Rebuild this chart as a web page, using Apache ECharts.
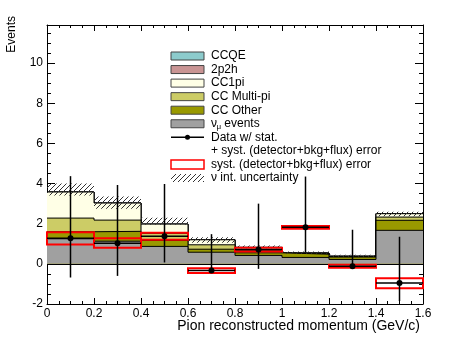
<!DOCTYPE html>
<html>
<head>
<meta charset="utf-8">
<script src="https://cdn.jsdelivr.net/npm/echarts@6/dist/echarts.min.js"></script>
<style>
  html, body { margin: 0; padding: 0; background: #fff; }
  #chart { width: 469px; height: 338px; }
</style>
</head>
<body>
<div id="chart"></div>
<script>
// bin edges, pion momentum (GeV/c)
var binEdges = [0, 0.2, 0.4, 0.6, 0.8, 1.0, 1.2, 1.4, 1.6];

// MC contributions per bin (stacked bottom -> top)
var numuEvents = [1.25, 1.13, 0.87, 0.58, 0.42, 0.32, 0.22, 1.67];
var ccOther    = [0.35, 0.49, 0.30, 0.15, 0.13, 0.16, 0.12, 0.50];
var ccMultiPi  = [0.68, 0.56, 0.35, 0.22, 0.13, 0.03, 0.02, 0.16];
var cc1pi      = [1.30, 0.85, 0.46, 0.25, 0.14, 0.03, 0.02, 0.17];
var twoP2h     = [0, 0, 0, 0, 0, 0, 0, 0];
var ccqe       = [0, 0, 0, 0, 0, 0, 0, 0];

// nu interaction uncertainty band
var hatchLow  = [3.40, 2.75, 1.95, 1.05, 0.78, 0.50, 0.36, 2.37];
var hatchHigh = [4.00, 3.35, 2.30, 1.33, 0.92, 0.62, 0.45, 2.60];

// data points
var dataVal  = [1.27, 1.03, 1.37, -0.33, 0.72, 1.82, -0.12, -0.95];
var errLow   = [-0.68, -0.60, 0.07, -0.33, -0.25, 0.57, -0.25, -1.85];
var errHigh  = [4.37, 3.93, 3.98, 1.48, 3.00, 4.35, 1.70, 1.35];
var systLow  = [0.97, 0.80, 1.20, -0.45, 0.62, 1.75, -0.20, -1.22];
var systHigh = [1.57, 1.28, 1.55, -0.22, 0.80, 1.88, -0.05, -0.72];

var yTicks = [-2, 0, 2, 4, 6, 8, 10];

var FONT = '"Liberation Sans", Arial, Helvetica, sans-serif';

// hatch pattern "////"
function makeHatch() {
  var c = document.createElement('canvas');
  c.width = 5; c.height = 5;
  var g = c.getContext('2d');
  g.strokeStyle = '#333';
  g.lineWidth = 1;
  g.beginPath();
  g.moveTo(-1, 6); g.lineTo(6, -1);
  g.stroke();
  return c;
}
var hatch = makeHatch();

// cumulative stack, each layer drawn from 0 like THStack
var layers = [
  { name: 'CCQE', vals: ccqe, color: '#8ccbcc' },
  { name: '2p2h', vals: twoP2h, color: '#c99494' },
  { name: 'CC1pi', vals: cc1pi, color: '#ffffe6' },
  { name: 'CC Multi-pi', vals: ccMultiPi, color: '#cccc66' },
  { name: 'CC Other', vals: ccOther, color: '#999900' },
  { name: 'numu', vals: numuEvents, color: '#a0a0a0' }
];
var stackOrder = [numuEvents, ccOther, ccMultiPi, cc1pi, twoP2h, ccqe];
function cumulative(upTo) {
  var out = [];
  for (var i = 0; i < binEdges.length - 1; i++) {
    var s = 0;
    for (var k = 0; k <= upTo; k++) s += stackOrder[k][i];
    out.push(s);
  }
  return out;
}

var series = [];
layers.forEach(function (l, idx) {
  var level = layers.length - 1 - idx;
  var cum = cumulative(level);
  var pts = [];
  for (var i = 0; i < cum.length; i++) pts.push([binEdges[i], cum[i]]);
  pts.push([binEdges[binEdges.length - 1], cum[cum.length - 1]]);
  series.push({
    type: 'line', name: l.name, data: pts, step: 'end',
    symbol: 'none', silent: true,
    lineStyle: { color: '#000', width: 1 },
    areaStyle: { color: l.color, opacity: 1 },
    z: 2 + idx
  });
});

// zero line
series[series.length - 1].markLine = {
  symbol: 'none', silent: true, label: { show: false },
  lineStyle: { color: '#000', width: 1, type: 'solid' },
  data: [{ yAxis: 0 }]
};

function rectFrom(api) {
  var a = api.coord([api.value(0), api.value(3)]);
  var b = api.coord([api.value(1), api.value(2)]);
  return { x: a[0], y: a[1], width: b[0] - a[0], height: b[1] - a[1] };
}

var hatchData = [], systData = [], pointData = [];
for (var i = 0; i < dataVal.length; i++) {
  hatchData.push([binEdges[i], binEdges[i + 1], hatchLow[i], hatchHigh[i]]);
  systData.push([binEdges[i], binEdges[i + 1], systLow[i], systHigh[i]]);
  pointData.push([binEdges[i], binEdges[i + 1], dataVal[i], errLow[i], errHigh[i]]);
}

series.push({
  type: 'custom', silent: true, z: 10,
  data: hatchData,
  encode: { x: [0, 1], y: [2, 3] },
  renderItem: function (params, api) {
    return { type: 'rect', shape: rectFrom(api),
      style: { fill: { image: hatch, repeat: 'repeat' }, stroke: null } };
  }
});

series.push({
  type: 'custom', silent: true, z: 11,
  data: systData,
  encode: { x: [0, 1], y: [2, 3] },
  renderItem: function (params, api) {
    return { type: 'rect', shape: rectFrom(api),
      style: { fill: null, stroke: '#ff0000', lineWidth: 2 } };
  }
});

series.push({
  type: 'custom', silent: true, z: 12,
  data: pointData,
  encode: { x: [0, 1], y: [2, 3, 4] },
  renderItem: function (params, api) {
    var x0 = api.value(0), x1 = api.value(1), xc = (x0 + x1) / 2;
    var p = api.coord([xc, api.value(2)]);
    var l = api.coord([x0, api.value(2)]);
    var r = api.coord([x1, api.value(2)]);
    var lo = api.coord([xc, api.value(3)]);
    var hi = api.coord([xc, api.value(4)]);
    var st = { stroke: '#000', lineWidth: 1.5 };
    return { type: 'group', children: [
      { type: 'line', shape: { x1: l[0], y1: l[1], x2: r[0], y2: r[1] }, style: st },
      { type: 'line', shape: { x1: lo[0], y1: lo[1], x2: hi[0], y2: hi[1] }, style: st },
      { type: 'circle', shape: { cx: p[0], cy: p[1], r: 3 }, style: { fill: '#000' } }
    ] };
  }
});

// legend drawn as graphics
var lx = 171, lw = 33, tx = 211, ly0 = 56, ldy = 13.55;
var graphics = [];
var legendBoxes = [
  ['CCQE', '#8ccbcc'], ['2p2h', '#c99494'], ['CC1pi', '#ffffe6'],
  ['CC Multi-pi', '#cccc66'], ['CC Other', '#999900'], ['', '#a0a0a0']
];
legendBoxes.forEach(function (e, i) {
  var y = ly0 + i * ldy;
  graphics.push({ type: 'rect', shape: { x: lx, y: y - 4, width: lw, height: 8 },
    style: { fill: e[1], stroke: '#444', lineWidth: 1 } });
  if (e[0]) graphics.push({ type: 'text', x: tx, y: y,
    style: { text: e[0], font: '12px ' + FONT, fill: '#000', verticalAlign: 'middle' } });
});
var ny = ly0 + 5 * ldy;
graphics.push({ type: 'text', x: tx, y: ny, style: { text: 'ν', font: '12px ' + FONT, fill: '#000', verticalAlign: 'middle' } });
graphics.push({ type: 'text', x: tx + 5.5, y: ny + 3, style: { text: 'μ', font: '8px ' + FONT, fill: '#000', verticalAlign: 'middle' } });
graphics.push({ type: 'text', x: tx + 10, y: ny, style: { text: ' events', font: '12px ' + FONT, fill: '#000', verticalAlign: 'middle' } });
var dy = ly0 + 6 * ldy;
graphics.push({ type: 'line', shape: { x1: lx, y1: dy, x2: lx + lw, y2: dy }, style: { stroke: '#000', lineWidth: 1.5 } });
graphics.push({ type: 'circle', shape: { cx: lx + lw / 2, cy: dy, r: 2.5 }, style: { fill: '#000' } });
graphics.push({ type: 'text', x: tx, y: dy, style: { text: 'Data w/ stat.', font: '12px ' + FONT, fill: '#000', verticalAlign: 'middle' } });
graphics.push({ type: 'text', x: tx, y: ly0 + 7 * ldy, style: { text: '+ syst. (detector+bkg+flux) error', font: '12px ' + FONT, fill: '#000', verticalAlign: 'middle' } });
var ry = ly0 + 8 * ldy;
graphics.push({ type: 'rect', shape: { x: lx, y: ry - 4.5, width: lw, height: 9 }, style: { fill: '#fff', stroke: '#ff0000', lineWidth: 1.5 } });
graphics.push({ type: 'text', x: tx, y: ry, style: { text: 'syst. (detector+bkg+flux) error', font: '12px ' + FONT, fill: '#000', verticalAlign: 'middle' } });
var hy = ly0 + 9 * ldy;
graphics.push({ type: 'rect', shape: { x: lx, y: hy - 4, width: lw, height: 8 }, style: { fill: { image: hatch, repeat: 'repeat' } } });
graphics.push({ type: 'text', x: tx, y: hy, style: { text: 'ν int. uncertainty', font: '12px ' + FONT, fill: '#000', verticalAlign: 'middle' } });

// axis titles
graphics.push({ type: 'text', x: 420, y: 326, style: { text: 'Pion reconstructed momentum (GeV/c)', font: '14px ' + FONT, fill: '#000', align: 'right', verticalAlign: 'middle' } });
graphics.push({ type: 'text', x: 12, y: 16, rotation: Math.PI / 2, style: { text: 'Events', font: '12px ' + FONT, fill: '#000', align: 'right', verticalAlign: 'middle' } });

var tickLine = { color: '#000', width: 1 };
function xAx(pos, labels) {
  return {
    type: 'value', position: pos, min: 0, max: 1.6, interval: 0.2,
    axisLine: { show: true, onZero: false, lineStyle: tickLine },
    axisTick: { show: true, inside: true, length: 6, lineStyle: tickLine },
    minorTick: { show: true, splitNumber: 4, length: 3, lineStyle: tickLine },
    splitLine: { show: false },
    axisLabel: { show: labels, margin: 4, color: '#000', fontSize: 12, fontFamily: FONT,
      formatter: function (v) { return String(Math.round(v * 10) / 10); } }
  };
}
function yAx(pos, labels) {
  return {
    type: 'value', position: pos, min: -2, max: 11.9, interval: 2,
    axisLine: { show: true, onZero: false, lineStyle: tickLine },
    axisTick: { show: true, inside: true, length: 8, lineStyle: tickLine },
    minorTick: { show: true, splitNumber: 4, length: 4, lineStyle: tickLine },
    splitLine: { show: false },
    axisLabel: { show: labels, margin: 4, color: '#000', fontSize: 12, fontFamily: FONT,
      formatter: function (v) { return yTicks.indexOf(Math.round(v * 100) / 100) >= 0 ? String(v) : ''; } }
  };
}

var chart = echarts.init(document.getElementById('chart'), null, { renderer: 'canvas' });
chart.setOption({
  animation: false,
  backgroundColor: '#fff',
  grid: { left: 47, right: 46, top: 25, bottom: 34, containLabel: false, outerBoundsMode: 'none' },
  xAxis: [xAx('bottom', true), xAx('top', false)],
  yAxis: [yAx('left', true), yAx('right', false)],
  series: series,
  graphic: graphics
});
</script>
</body>
</html>
